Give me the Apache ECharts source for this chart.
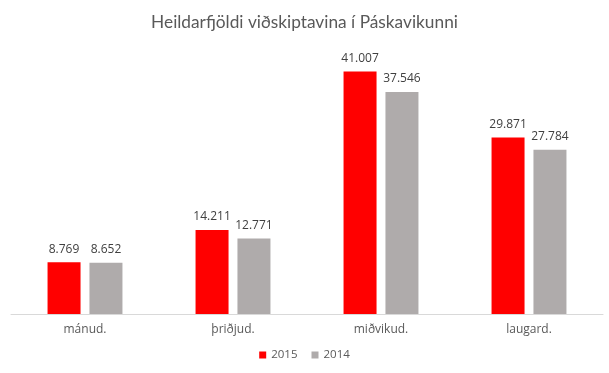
<!DOCTYPE html>
<html><head><meta charset="utf-8">
<script src="https://cdn.jsdelivr.net/npm/echarts@6/dist/echarts.min.js"></script>
<style>html,body{margin:0;padding:0;background:#fff}#c{width:609px;height:373px}</style>
</head><body><div id="c"></div>
<script>
const categories = ['mánud.', 'þriðjud.', 'miðvikud.', 'laugard.'];
const values2015 = [8769, 14211, 41007, 29871];
const values2014 = [8652, 12771, 37546, 27784];
const seriesNames = ['2015', '2014'];
const fmt = v => String(v).replace(/\B(?=(\d{3})+(?!\d))/g, '.');
const font = 'Open Sans';
const chart = echarts.init(document.getElementById('c'));
const lbl = {show: true, position: 'top', distance: 7, color: '#404040', fontSize: 12, fontFamily: font, formatter: p => fmt(p.value)};
chart.setOption({
  animation: false,
  title: {text: 'Heildarfjöldi viðskiptavina í Páskavikunni', left: 'center', top: 9,
    textStyle: {fontFamily: 'Lato', fontSize: 17.3, fontWeight: 'normal', color: '#595959'}},
  legend: {bottom: 7, left: 'center', itemWidth: 7, itemHeight: 7, itemGap: 14,
    textStyle: {fontFamily: font, fontSize: 11.5, color: '#595959'}, icon: 'rect', itemStyle:{borderWidth:0}},
  grid: {left: 11, right: 6, top: 48, bottom: 59},
  xAxis: {type: 'category', data: categories,
    axisLine: {lineStyle: {color: '#d9d9d9'}}, axisTick: {show: false},
    axisLabel: {fontFamily: font, fontSize: 12, color: '#595959', margin: 10}},
  yAxis: {type: 'value', min: 0, max: 45000, show: false, splitLine: {show: false}},
  series: [
    {name: seriesNames[0], type: 'bar', data: values2015, barWidth: 33, barGap: '27%', itemStyle: {color: '#ff0000'}, label: lbl},
    {name: seriesNames[1], type: 'bar', data: values2014, barWidth: 33, itemStyle: {color: '#afabab'}, label: lbl}
  ]
});
</script></body></html>
